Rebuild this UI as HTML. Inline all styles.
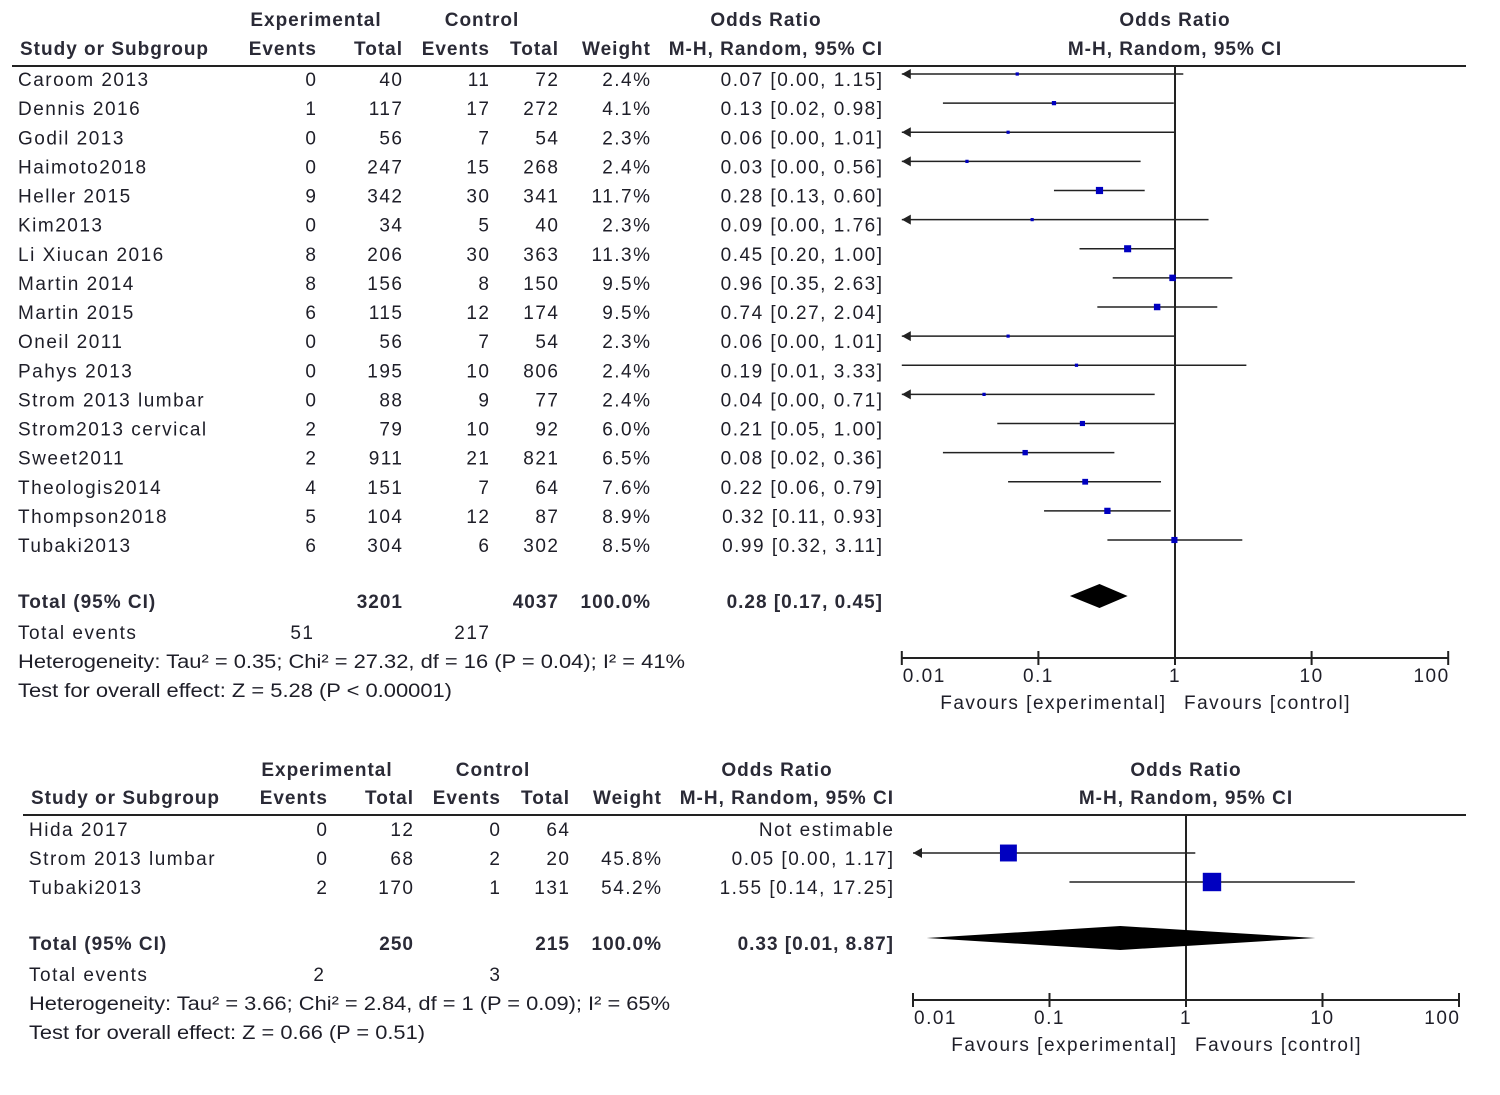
<!DOCTYPE html>
<html><head><meta charset="utf-8"><style>
html,body{margin:0;padding:0;background:#fff;}
svg{display:block;font-family:"Liberation Sans",Arial,sans-serif;}
text{fill:#1e1e28;font-size:19px;letter-spacing:1.5px;}
.b{font-weight:bold;letter-spacing:1px;fill:#2a2a36;}
</style></head><body>
<svg id="chart" width="1500" height="1095" viewBox="0 0 1500 1095"></svg>
<script>
// Panel 1 data
const studies1 = ["Caroom 2013","Dennis 2016","Godil 2013","Haimoto2018","Heller 2015","Kim2013","Li Xiucan 2016","Martin 2014","Martin 2015","Oneil 2011","Pahys 2013","Strom 2013 lumbar","Strom2013 cervical","Sweet2011","Theologis2014","Thompson2018","Tubaki2013"];
const expEvents1 = [0,1,0,0,9,0,8,8,6,0,0,0,2,2,4,5,6];
const expTotal1 = [40,117,56,247,342,34,206,156,115,56,195,88,79,911,151,104,304];
const ctlEvents1 = [11,17,7,15,30,5,30,8,12,7,10,9,10,21,7,12,6];
const ctlTotal1 = [72,272,54,268,341,40,363,150,174,54,806,77,92,821,64,87,302];
const weight1 = ["2.4%","4.1%","2.3%","2.4%","11.7%","2.3%","11.3%","9.5%","9.5%","2.3%","2.4%","2.4%","6.0%","6.5%","7.6%","8.9%","8.5%"];
const or1 = [0.07,0.13,0.06,0.03,0.28,0.09,0.45,0.96,0.74,0.06,0.19,0.04,0.21,0.08,0.22,0.32,0.99];
const lo1 = [0.004,0.02,0.003,0.002,0.13,0.005,0.20,0.35,0.27,0.003,0.01,0.002,0.05,0.02,0.06,0.11,0.32];
const hi1 = [1.15,0.98,1.01,0.56,0.60,1.76,1.00,2.63,2.04,1.01,3.33,0.71,1.00,0.36,0.79,0.93,3.11];
const orText1 = ["0.07 [0.00, 1.15]","0.13 [0.02, 0.98]","0.06 [0.00, 1.01]","0.03 [0.00, 0.56]","0.28 [0.13, 0.60]","0.09 [0.00, 1.76]","0.45 [0.20, 1.00]","0.96 [0.35, 2.63]","0.74 [0.27, 2.04]","0.06 [0.00, 1.01]","0.19 [0.01, 3.33]","0.04 [0.00, 0.71]","0.21 [0.05, 1.00]","0.08 [0.02, 0.36]","0.22 [0.06, 0.79]","0.32 [0.11, 0.93]","0.99 [0.32, 3.11]"];
const wNum1 = [2.4,4.1,2.3,2.4,11.7,2.3,11.3,9.5,9.5,2.3,2.4,2.4,6.0,6.5,7.6,8.9,8.5];
const total1 = [0.28,0.17,0.45];
// Panel 2 data
const studies2 = ["Hida 2017","Strom 2013 lumbar","Tubaki2013"];
const expEvents2 = [0,0,2];
const expTotal2 = [12,68,170];
const ctlEvents2 = [0,2,1];
const ctlTotal2 = [64,20,131];
const weight2 = ["","45.8%","54.2%"];
const or2 = [null,0.05,1.55];
const lo2 = [null,0.002,0.14];
const hi2 = [null,1.17,17.25];
const orText2 = ["Not estimable","0.05 [0.00, 1.17]","1.55 [0.14, 17.25]"];
const wNum2 = [0,45.8,54.2];
const total2 = [0.33,0.0126,8.87];
const ticks = [0.01,0.1,1,10,100];
const tickLabels = ["0.01","0.1","1","10","100"];

const svg = document.getElementById('chart');
const NS = "http://www.w3.org/2000/svg";
function mk(tag, attrs, parent){
  const e = document.createElementNS(NS, tag);
  for (const k in attrs) e.setAttribute(k, attrs[k]);
  (parent||svg).appendChild(e); return e;
}
function txt(x,y,s,anchor,bold,name,parent,len){
  if(anchor==='end') x += bold?1:1.5;
  const t = mk('text',{x:x,y:y,'text-anchor':anchor||'start'},parent);
  if(bold) t.setAttribute('class','b');
  if(len){t.setAttribute('textLength',len);t.setAttribute('lengthAdjust','spacingAndGlyphs');t.style.letterSpacing='0px';}
  t.textContent = s;
  
  
  return t;
}

function panel(cfg){
  const g = mk('g',{});
  
  
  const dx = cfg.dx, y0 = cfg.y0, step = cfg.step;
  const xScale = v => cfg.x1 + cfg.dec*Math.log10(v);
  const xmin = xScale(0.01), xmax = xScale(100);
  txt(316+dx, cfg.h1, "Experimental","middle",true,"experimental-header",g);
  txt(482+dx, cfg.h1, "Control","middle",true,"control-header",g);
  txt(766+dx, cfg.h1, "Odds Ratio","middle",true,"odds-ratio-header",g);
  txt(cfg.x1, cfg.h1, "Odds Ratio","middle",true,"plot-odds-ratio-header",g);
  txt(20+dx, cfg.h2, "Study or Subgroup","start",true,"study-column-header",g);
  txt(316+dx, cfg.h2, "Events","end",true,"exp-events-header",g);
  txt(402+dx, cfg.h2, "Total","end",true,"exp-total-header",g);
  txt(489+dx, cfg.h2, "Events","end",true,"ctl-events-header",g);
  txt(558+dx, cfg.h2, "Total","end",true,"ctl-total-header",g);
  txt(650+dx, cfg.h2, "Weight","end",true,"weight-header",g);
  txt(882+dx, cfg.h2, "M-H, Random, 95% CI","end",true,"method-header",g);
  txt(cfg.x1, cfg.h2, "M-H, Random, 95% CI","middle",true,"plot-method-header",g);
  const hl = mk('line',{x1:12+dx,x2:1466,y1:cfg.h2+11,y2:cfg.h2+11,stroke:'#222','stroke-width':2},g);
  
  
  const vl = mk('line',{x1:cfg.x1,x2:cfg.x1,y1:cfg.h2+11,y2:cfg.axisY,stroke:'#222','stroke-width':2},g);
  
  
  const d = cfg.data;
  d.studies.forEach((s,i)=>{
    const cy = y0 + i*step, by = cy+7, ly = cy-5;
    txt(18+dx, by, s,'start',false,'study-name',g);
    txt(316+dx, by, d.ee[i],'end',false,'exp-events',g);
    txt(402+dx, by, d.et[i],'end',false,'exp-total',g);
    txt(489+dx, by, d.ce[i],'end',false,'ctl-events',g);
    txt(558+dx, by, d.ct[i],'end',false,'ctl-total',g);
    txt(650+dx, by, d.w[i],'end',false,'weight',g);
    txt(882+dx, by, d.ot[i],'end',false,'odds-ratio-text',g);
    if(d.or[i]==null) return;
    const lx = Math.max(xScale(d.lo[i]), xmin), hx = Math.min(xScale(d.hi[i]), xmax);
    const ci = mk('line',{x1:lx,x2:hx,y1:ly,y2:ly,stroke:'#222','stroke-width':1.6},g);
    
    
    if(xScale(d.lo[i]) < xmin){
      const a = mk('polygon',{points:`${xmin},${ly} ${xmin+9},${ly-5} ${xmin+9},${ly+5}`,fill:'#222'},g);
      
      
    }
    const sz = Math.max(3, cfg.sq*Math.sqrt(d.wn[i]));
    const sqr = mk('rect',{x:xScale(d.or[i])-sz/2,y:ly-sz/2,width:sz,height:sz,fill:'#0000c0'},g);
    
    
  });
  const ty = cfg.totY;
  txt(18+dx, ty+7, "Total (95% CI)",'start',true,'total-label',g);
  txt(402+dx, ty+7, cfg.totE,'end',true,'total-exp',g);
  txt(558+dx, ty+7, cfg.totC,'end',true,'total-ctl',g);
  txt(650+dx, ty+7, "100.0%",'end',true,'total-weight',g);
  txt(882+dx, ty+7, cfg.totText,'end',true,'total-or-text',g);
  const cx = xScale(d.tot[0]), l = xScale(d.tot[1]), r = xScale(d.tot[2]);
  const dm = mk('polygon',{points:`${l},${ty-5} ${cx},${ty-17} ${r},${ty-5} ${cx},${ty+7}`,fill:'#000'},g);
  
  
  txt(18+dx, ty+38, "Total events",'start',false,'total-events-label',g);
  txt(313+dx, ty+38, cfg.evE,'end',false,'total-events-exp',g);
  txt(489+dx, ty+38, cfg.evC,'end',false,'total-events-ctl',g);
  txt(18+dx, ty+67, cfg.het,'start',false,'heterogeneity-text',g,cfg.hetLen);
  txt(18+dx, ty+96, cfg.test,'start',false,'overall-effect-text',g,cfg.testLen);
  const ay = cfg.axisY;
  const ax = mk('line',{x1:xmin,x2:xmax,y1:ay,y2:ay,stroke:'#222','stroke-width':2},g);
  
  
  ticks.forEach((t,i)=>{
    const x = xScale(t);
    const tk = mk('line',{x1:x,x2:x,y1:ay-7,y2:ay+7,stroke:'#222','stroke-width':2},g);
    
    
    const anchor = i==0?'start':(i==ticks.length-1?'end':'middle');
    txt(i==0?x+1:x, ay+24, tickLabels[i], anchor,false,'x-tick-label',g);
  });
  txt(cfg.x1-10, ay+51, "Favours [experimental]",'end',false,'favours-experimental',g);
  txt(cfg.x1+9, ay+51, "Favours [control]",'start',false,'favours-control',g);
}

panel({name:'top-panel',dx:0,y0:79,step:29.125,h1:26,h2:55,x1:1175,dec:136.6,sq:2.1,totY:601,axisY:658,
  totE:"3201",totC:"4037",totText:"0.28 [0.17, 0.45]",evE:"51",evC:"217",
  het:"Heterogeneity: Tau² = 0.35; Chi² = 27.32, df = 16 (P = 0.04); I² = 41%",hetLen:667,
  test:"Test for overall effect: Z = 5.28 (P < 0.00001)",testLen:434,
  data:{studies:studies1,ee:expEvents1,et:expTotal1,ce:ctlEvents1,ct:ctlTotal1,w:weight1,or:or1,lo:lo1,hi:hi1,ot:orText1,wn:wNum1,tot:total1}});
panel({name:'bottom-panel',dx:11,y0:829,step:29,h1:776,h2:804,x1:1186,dec:136.5,sq:2.5,totY:943,axisY:1000,
  totE:"250",totC:"215",totText:"0.33 [0.01, 8.87]",evE:"2",evC:"3",
  het:"Heterogeneity: Tau² = 3.66; Chi² = 2.84, df = 1 (P = 0.09); I² = 65%",hetLen:641,
  test:"Test for overall effect: Z = 0.66 (P = 0.51)",testLen:396,
  data:{studies:studies2,ee:expEvents2,et:expTotal2,ce:ctlEvents2,ct:ctlTotal2,w:weight2,or:or2,lo:lo2,hi:hi2,ot:orText2,wn:wNum2,tot:total2}});
</script>
</body></html>
